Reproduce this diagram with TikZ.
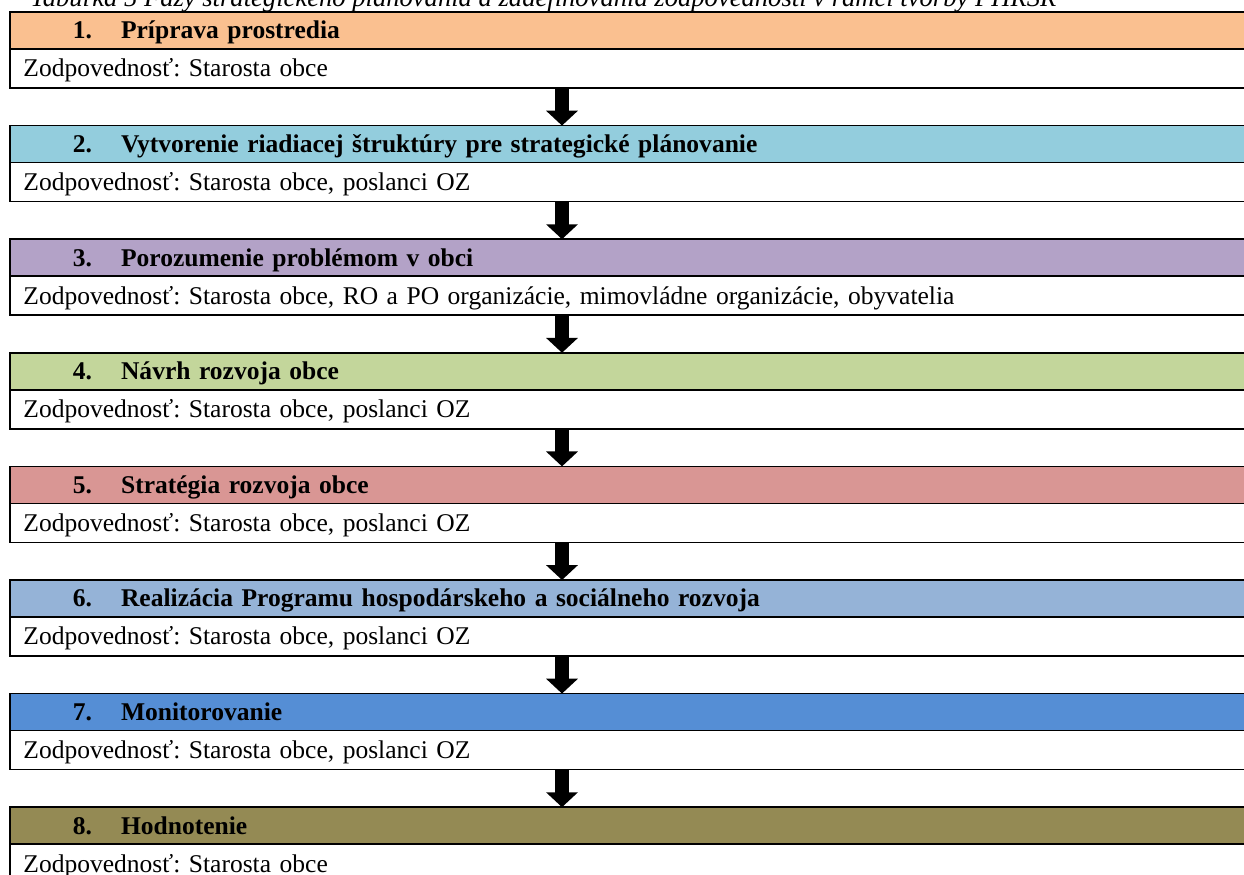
\documentclass[tikz,border=0pt,12pt]{standalone}
\usepackage{fontspec}
\setmainfont{Liberation Serif}
\usepackage{xcolor}
\usepackage{tikz}
\usetikzlibrary{arrows.meta}

\definecolor{phaseA}{HTML}{FAC090}
\definecolor{phaseB}{HTML}{93CDDD}
\definecolor{phaseC}{HTML}{B3A2C7}
\definecolor{phaseD}{HTML}{C3D69B}
\definecolor{phaseE}{HTML}{D99694}
\definecolor{phaseF}{HTML}{95B3D7}
\definecolor{phaseG}{HTML}{558ED5}
\definecolor{phaseH}{HTML}{948A54}
\frenchspacing

\begin{document}
\begin{tikzpicture}[x=0.47pt,y=-0.47pt,
    head/.style={draw,line width=0.75pt,outer sep=0pt,anchor=north west,minimum width=587.5pt,minimum height=17.4pt,inner xsep=29.6pt,text width=528.3pt,align=left,text height=7.9pt,text depth=0pt,font=\bfseries},
    resp/.style={draw,line width=0.75pt,outer sep=0pt,anchor=north west,minimum width=587.5pt,minimum height=18.3pt,inner xsep=6.3pt,text width=574.9pt,align=left,text height=7.9pt,text depth=0pt},
    down/.style={line width=7pt,-{Triangle[width=14.6pt,length=7pt]}}]
    \useasboundingbox (0,0) rectangle (1244,875);
    \node[anchor=base west,inner sep=0pt,font=\fontsize{12.5}{14}\selectfont\itshape] (cap) at (30,7) {Tabuľka 5 Fázy strategického plánovania a zadefinovania zodpovednosti v rámci tvorby PHRSR};
    \node[head,fill=phaseA] (h1) at (10,12) {1.\hspace{13.6pt}Príprava prostredia};
    \node[resp] (b1) at (h1.south west) {Zodpovednosť: Starosta obce};
    \node[head,fill=phaseB] (h2) at (10,125.6) {2.\hspace{13.6pt}Vytvorenie riadiacej štruktúry pre strategické plánovanie};
    \node[resp] (b2) at (h2.south west) {Zodpovednosť: Starosta obce, poslanci OZ};
    \node[head,fill=phaseC] (h3) at (10,239.2) {3.\hspace{13.6pt}Porozumenie problémom v obci};
    \node[resp] (b3) at (h3.south west) {Zodpovednosť: Starosta obce, RO a PO organizácie, mimovládne organizácie, obyvatelia};
    \node[head,fill=phaseD] (h4) at (10,352.8) {4.\hspace{13.6pt}Návrh rozvoja obce};
    \node[resp] (b4) at (h4.south west) {Zodpovednosť: Starosta obce, poslanci OZ};
    \node[head,fill=phaseE] (h5) at (10,466.4) {5.\hspace{13.6pt}Stratégia rozvoja obce};
    \node[resp] (b5) at (h5.south west) {Zodpovednosť: Starosta obce, poslanci OZ};
    \node[head,fill=phaseF] (h6) at (10,580) {6.\hspace{13.6pt}Realizácia Programu hospodárskeho a sociálneho rozvoja};
    \node[resp] (b6) at (h6.south west) {Zodpovednosť: Starosta obce, poslanci OZ};
    \node[head,fill=phaseG] (h7) at (10,693.6) {7.\hspace{13.6pt}Monitorovanie};
    \node[resp] (b7) at (h7.south west) {Zodpovednosť: Starosta obce, poslanci OZ};
    \node[head,fill=phaseH] (h8) at (10,807.2) {8.\hspace{13.6pt}Hodnotenie};
    \node[resp] (b8) at (h8.south west) {Zodpovednosť: Starosta obce};
    % arrows between the phases
    \coordinate (ax) at (562,0);
    \draw[down] (b1.south -| ax) to (h2.north -| ax);
    \draw[down] (b2.south -| ax) to (h3.north -| ax);
    \draw[down] (b3.south -| ax) to (h4.north -| ax);
    \draw[down] (b4.south -| ax) to (h5.north -| ax);
    \draw[down] (b5.south -| ax) to (h6.north -| ax);
    \draw[down] (b6.south -| ax) to (h7.north -| ax);
    \draw[down] (b7.south -| ax) to (h8.north -| ax);
\end{tikzpicture}
\end{document}
